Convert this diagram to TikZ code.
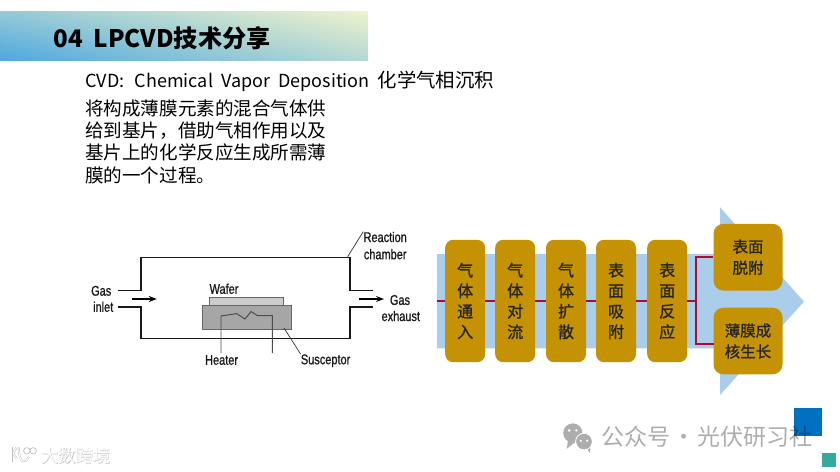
\documentclass[tikz,border=0pt]{standalone}
\usepackage{fontspec}
\setmainfont{Noto Sans CJK SC}
\newfontfamily\boxfont[FakeBold=1.2]{Noto Sans CJK SC}
\newfontfamily\narrowfont[FakeStretch=0.78,FakeBold=1]{Liberation Sans}
\usetikzlibrary{arrows.meta, positioning, calc, shadings}
\definecolor{headblue}{HTML}{4DA8DF}
\definecolor{headcream}{HTML}{EEF3CC}
\definecolor{arrowblue}{HTML}{A9CDEB}
\definecolor{boxgold}{HTML}{C49202}
\definecolor{linkred}{HTML}{A3112F}
\definecolor{cornerblue}{HTML}{0070C0}
\definecolor{cornerteal}{HTML}{33A99F}
\newcommand{\latinpart}{\fontsize{12.8}{16}\selectfont}
\tikzset{
    titletxt/.style={font=\fontsize{17.2}{20}\selectfont\bfseries, anchor=west, inner sep=0pt},
    cvdtxt/.style={font=\fontsize{13.8}{16}\selectfont, anchor=west, inner sep=0pt},
    bodytxt/.style={font=\fontsize{13.2}{15.9}\selectfont, anchor=west, inner sep=0pt, align=left},
    wall/.style={line width=1.2pt, black!90},
    wafer/.style={draw=black!60, fill=black!20, line width=0.5pt, inner sep=0pt, minimum width=1.87cm, minimum height=0.21cm},
    susceptor/.style={draw=black!60, fill=black!35, line width=0.5pt, inner sep=0pt, minimum width=2.225cm, minimum height=0.6cm},
    heaterline/.style={line width=0.7pt, black!70},
    leader/.style={line width=0.5pt, black!80},
    gas/.style={-{Stealth[length=2mm]}, line width=0.8pt},
    lbl/.style={font=\narrowfont\fontsize{10}{12.2}\selectfont, align=center, inner sep=0pt, text=black!90},
    stepbox/.style={fill=boxgold, rounded corners=0.2cm, minimum width=1cm, minimum height=3.06cm, inner sep=0pt,
        align=center, font=\boxfont\fontsize{11.4}{14.6}\selectfont, text=black!85},
    endbox/.style={fill=boxgold, rounded corners=0.25cm, minimum width=1.725cm, minimum height=1.67cm, inner sep=0pt,
        align=center, font=\boxfont\fontsize{11}{15}\selectfont, text=black!85},
    link/.style={linkred, line width=1.4pt},
    marktxt/.style={font=\fontsize{16.4}{18}\selectfont, anchor=west, inner sep=0pt, text=black, text opacity=0.32},
    logotxt/.style={font=\fontsize{12.3}{14}\selectfont, anchor=west, inner sep=0pt},
    logoedge/.style={black!25, line width=1.4pt},
    logocore/.style={white, line width=0.7pt},
}
\begin{document}
\begin{tikzpicture}
    \useasboundingbox (0,0) rectangle (21,-11.8);

    % Titel
    \shade[shading=bilinear interpolation, lower left=headblue, upper right=headcream,
        upper left=headblue!55!headcream, lower right=headblue!35!headcream]
        (0,-0.275) rectangle (9.2,-1.5);
    \node[titletxt] (title) at (1.325,-0.95) {04\ \ LPCVD技术分享};
    \node[cvdtxt] (cvd) at (2.125,-2.025) {{\latinpart CVD:\hspace*{7.5pt}Chemical\hspace*{5.7pt}Vapor\hspace*{5.7pt}Deposition}\hspace*{5.7pt}化学气相沉积};
    \node[bodytxt] (body) at (2.125,-3.54) {将构成薄膜元素的混合气体供\\给到基片，借助气相作用以及\\基片上的化学反应生成所需薄\\膜的一个过程。};

    % Chamber
    \draw[wall] (2.94,-7.26) -- (3.52,-7.26) -- (3.52,-6.44) -- (8.75,-6.44) -- (8.75,-7.26) -- (9.33,-7.26);
    \draw[wall] (2.94,-7.67) -- (3.52,-7.67) -- (3.52,-8.46) -- (8.75,-8.46) -- (8.75,-7.67) -- (9.33,-7.67);
    \node[susceptor] (susc) at (6.16,-7.94) {};
    \node[wafer] (wafer) at (6.16,-7.535) {};

    % Heater
    \draw[heaterline] (5.525,-8.83) -- (5.525,-7.9) -- (5.92,-7.84) -- (6.125,-7.975) -- (6.275,-7.79) -- (6.44,-7.89) -- (6.81,-7.89) -- (6.81,-8.83);

    % Labels
    \node[lbl] (reaction) at (9.63,-6.14) {Reaction\\chamber};
    \node[lbl] (gasin) at (2.53,-7.27) {Gas};
    \node[lbl] (inlet) at (2.58,-7.67) {inlet};
    \node[lbl] (gasout) at (10,-7.5) {Gas};
    \node[lbl] (exhaust) at (10.02,-7.9) {exhaust};
    \node[lbl] (waferlbl) at (5.6,-7.22) {Wafer};
    \node[lbl] (heaterlbl) at (5.54,-9) {Heater};
    \node[lbl] (susclbl) at (8.14,-9.02) {Susceptor};

    \coordinate (inA) at (3.29,-7.475);
    \coordinate (inB) at (3.92,-7.475);
    \coordinate (outA) at (8.98,-7.475);
    \coordinate (outB) at (9.6,-7.475);
    \draw[gas] (inA) -- (inB);
    \draw[gas] (outA) -- (outB);
    \coordinate (chambertop) at (8.69,-6.42);
    \coordinate (suscpt) at (7.1,-8.2);
    \draw[leader] (chambertop) -- (reaction.north west);
    \draw[leader] (suscpt) -- (susclbl.north west);

    % Big arrow
    \fill[arrowblue] (10.92,-6.35) -- (18,-6.35) -- (18,-5.18) -- (20.1,-7.54) -- (18,-9.875) -- (18,-8.71) -- (10.92,-8.71) -- cycle;

    % Steps
    \node[stepbox] (s1) at (11.63,-7.525) {气\\体\\通\\入};
    \node[stepbox] (s2) at (12.88,-7.525) {气\\体\\对\\流};
    \node[stepbox] (s3) at (14.15,-7.525) {气\\体\\扩\\散};
    \node[stepbox] (s4) at (15.4,-7.525) {表\\面\\吸\\附};
    \node[stepbox] (s5) at (16.68,-7.525) {表\\面\\反\\应};
    \node[endbox] (e1) at (18.7,-6.43) {表面\\脱附};
    \node[endbox] (e2) at (18.7,-8.525) {薄膜成\\核生长};

    \coordinate (start) at (10.92,-7.525);
    \coordinate (split) at (17.39,-7.525);
    \coordinate (lowend) at (17.84,-8.61);
    \draw[link] (start) -- (s1);
    \foreach \a/\b in {s1/s2,s2/s3,s3/s4,s4/s5,s5/split} {
        \draw[link] (\a) -- (\b);
    }
    \draw[link] (split) |- (e1);
    \draw[link] (split) |- (lowend);

    % Corner squares
    \fill[cornerblue] (19.85,-10.2) rectangle (20.55,-10.9);
    \fill[cornerteal] (20.55,-11.325) rectangle (20.9,-11.675);

    % Marks
    \fill[black!32] (14.32,-10.825) circle (0.24) (14.6,-11.04) circle (0.2);
    \fill[black!32] (14.2,-11.02) -- (14.17,-11.22) -- (14.38,-11.05) -- cycle;
    \fill[black!32] (14.66,-11.2) -- (14.75,-11.33) -- (14.76,-11.15) -- cycle;
    \draw[white, line width=0.6pt] (14.6,-11.04) circle (0.21);
    \fill[white] (14.23,-10.76) circle (0.035) (14.41,-10.76) circle (0.035) (14.52,-11.02) circle (0.03) (14.68,-11.02) circle (0.03);
    \node[marktxt] (mark) at (15.02,-10.925) {公众号\hspace*{1.4pt}·\hspace*{1.4pt}光伏研习社};

    \foreach \s in {logoedge,logocore} {
        \draw[\s] (0.29,-11.18) -- (0.29,-11.55);
        \draw[\s] (0.42,-11.18) -- (0.33,-11.33) -- (0.42,-11.47);
        \draw[\s] (0.47,-11.18) .. controls (0.47,-11.6) and (0.64,-11.6) .. (0.72,-11.42);
    }
    \draw[black!25, line width=0.5pt, fill=white] (0.67,-11.27) circle (0.08) (0.83,-11.27) circle (0.08);
    \node[logotxt, text=black!22] (logoback) at (1.03,-11.4) {\boxfont 大数跨境};
    \node[logotxt, text=white] (logo) at (1.03,-11.4) {大数跨境};
\end{tikzpicture}
\end{document}
